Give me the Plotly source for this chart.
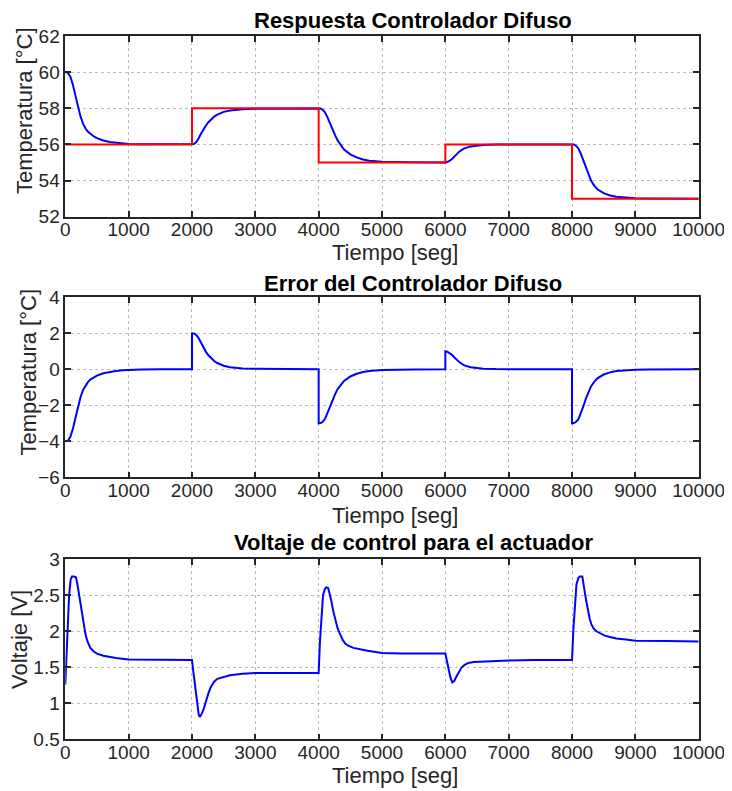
import plotly.graph_objects as go

# ---------------- data ----------------
TIME_TEMP = [0, 40, 80, 120, 160, 200, 240, 280, 320, 360, 400, 450, 500, 600, 700, 800, 900, 1000, 1200, 1500, 2000,
             2030, 2060, 2100, 2140, 2180, 2220, 2260, 2300, 2350, 2400, 2500, 2600, 2700, 2800, 3000, 3200, 3500, 4000,
             4030, 4060, 4100, 4140, 4180, 4220, 4260, 4300, 4350, 4400, 4500, 4600, 4700, 4800, 5000, 5200, 5500, 6000,
             6030, 6060, 6100, 6140, 6180, 6220, 6260, 6300, 6400, 6500, 6600, 6800, 7000, 7500, 8000,
             8030, 8060, 8100, 8140, 8180, 8220, 8260, 8300, 8350, 8400, 8500, 8600, 8700, 8800, 9000, 9200, 9500, 10000]
TEMPERATURE = [60.0, 59.97, 59.75, 59.3, 58.7, 58.1, 57.55, 57.15, 56.88, 56.7, 56.56, 56.44, 56.35, 56.22, 56.14, 56.09, 56.05, 56.03, 56.01, 56.0, 56.0,
               56.02, 56.1, 56.3, 56.58, 56.84, 57.05, 57.23, 57.38, 57.54, 57.65, 57.8, 57.88, 57.92, 57.95, 57.97, 57.98, 57.99, 58.0,
               57.99, 57.93, 57.78, 57.5, 57.15, 56.8, 56.5, 56.22, 55.95, 55.72, 55.45, 55.28, 55.17, 55.1, 55.04, 55.02, 55.01, 55.0,
               55.02, 55.07, 55.18, 55.33, 55.48, 55.6, 55.7, 55.78, 55.89, 55.94, 55.97, 55.99, 56.0, 56.0, 56.0,
               55.99, 55.93, 55.78, 55.48, 55.1, 54.68, 54.3, 54.0, 53.72, 53.52, 53.3, 53.17, 53.1, 53.06, 53.02, 53.01, 53.0, 53.0]

SP_TIME = [0, 2000, 4000, 6000, 8000, 10000]
SETPOINT = [56, 58, 55, 56, 53, 53]

TIME_ERR = [0, 40, 80, 120, 160, 200, 240, 280, 320, 360, 400, 450, 500, 600, 700, 800, 900, 1000, 1200, 1500, 2000,
            2000, 2030, 2060, 2100, 2140, 2180, 2220, 2260, 2300, 2350, 2400, 2500, 2600, 2700, 2800, 3000, 3200, 3500, 4000,
            4000, 4030, 4060, 4100, 4140, 4180, 4220, 4260, 4300, 4350, 4400, 4500, 4600, 4700, 4800, 5000, 5200, 5500, 6000,
            6000, 6030, 6060, 6100, 6140, 6180, 6220, 6260, 6300, 6400, 6500, 6600, 6800, 7000, 7500, 8000,
            8000, 8030, 8060, 8100, 8140, 8180, 8220, 8260, 8300, 8350, 8400, 8500, 8600, 8700, 8800, 9000, 9200, 9500, 10000]
ERROR = [-4.0, -3.97, -3.75, -3.3, -2.7, -2.1, -1.55, -1.15, -0.88, -0.7, -0.56, -0.44, -0.35, -0.22, -0.14, -0.09, -0.05, -0.03, -0.01, 0.0, 0.0,
         2.0, 1.99, 1.93, 1.76, 1.5, 1.2, 0.97, 0.78, 0.62, 0.46, 0.35, 0.2, 0.12, 0.08, 0.05, 0.03, 0.02, 0.01, 0.0,
         -3.0, -2.99, -2.93, -2.75, -2.42, -2.05, -1.68, -1.38, -1.1, -0.85, -0.65, -0.4, -0.25, -0.15, -0.09, -0.04, -0.02, -0.01, 0.0,
         1.0, 0.98, 0.93, 0.82, 0.67, 0.52, 0.4, 0.3, 0.22, 0.11, 0.06, 0.03, 0.01, 0.0, 0.0, 0.0,
         -3.0, -2.99, -2.93, -2.78, -2.45, -2.05, -1.62, -1.25, -0.95, -0.7, -0.5, -0.29, -0.17, -0.1, -0.06, -0.02, -0.01, 0.0, 0.0]

TIME_VOLT = [0, 30, 60, 85, 105, 140, 168, 190, 210, 230, 250, 270, 290, 320, 350, 395, 450, 500, 600, 700, 800, 1000, 1300, 2000,
             2020, 2053, 2080, 2105, 2121, 2140, 2184, 2220, 2263, 2300, 2349, 2400, 2500, 2600, 2800, 3000, 3500, 4000,
             4020, 4045, 4069, 4100, 4120, 4150, 4175, 4200, 4230, 4260, 4300, 4333, 4380, 4420, 4466, 4550, 4650, 4772, 5000, 5300, 6000,
             6020, 6047, 6080, 6110, 6140, 6179, 6220, 6258, 6300, 6363, 6450, 6547, 7000, 7400, 8000,
             8020, 8045, 8070, 8100, 8121, 8163, 8185, 8200, 8225, 8253, 8280, 8305, 8340, 8384, 8450, 8516, 8600, 8700, 8850, 9000, 9500, 10000]
VOLTAGE = [1.26, 1.9, 2.5, 2.72, 2.76, 2.76, 2.75, 2.66, 2.55, 2.43, 2.3, 2.18, 2.06, 1.95, 1.86, 1.77, 1.72, 1.69, 1.66, 1.64, 1.63, 1.61, 1.605, 1.6,
           1.45, 1.2, 1.0, 0.85, 0.81, 0.83, 0.92, 1.04, 1.15, 1.23, 1.3, 1.34, 1.37, 1.39, 1.41, 1.42, 1.42, 1.42,
           1.85, 2.25, 2.5, 2.59, 2.61, 2.6, 2.52, 2.42, 2.28, 2.16, 2.04, 1.97, 1.88, 1.83, 1.8, 1.77, 1.75, 1.73, 1.7, 1.69, 1.69,
           1.6, 1.48, 1.36, 1.29, 1.31, 1.38, 1.45, 1.5, 1.53, 1.56, 1.575, 1.58, 1.595, 1.6, 1.6,
           2.0, 2.4, 2.65, 2.74, 2.76, 2.76, 2.66, 2.55, 2.42, 2.27, 2.17, 2.1, 2.04, 2.0, 1.97, 1.94, 1.92, 1.9, 1.885, 1.87, 1.865, 1.86]

X_TICKS = [0, 1000, 2000, 3000, 4000, 5000, 6000, 7000, 8000, 9000, 10000]
X_TICK_LABELS = ["0", "1000", "2000", "3000", "4000", "5000", "6000", "7000", "8000", "9000", "10000"]
TITLES = ["Respuesta Controlador Difuso", "Error del Controlador Difuso", "Voltaje de control para el actuador"]
X_LABEL = "Tiempo [seg]"
Y_LABELS = ["Temperatura [°C]", "Temperatura [°C]", "Voltaje [V]"]

# ---------------- figure ----------------
OFF = 8  # page body margin of the html page
W, H = 732 - OFF, 791 - OFF
FONT = "Liberation Sans, Arial, Helvetica, sans-serif"
AX = "#262626"


def px(x):
    return (x - OFF) / W


def py(y):
    return 1 - (y - OFF) / H


fig = go.Figure()
fig.add_trace(go.Scatter(x=TIME_TEMP, y=TEMPERATURE, mode="lines", line=dict(color="#0000FF", width=2),
                         xaxis="x", yaxis="y", showlegend=False))
fig.add_trace(go.Scatter(x=SP_TIME, y=SETPOINT, mode="lines", line=dict(color="#FF0000", width=2, shape="hv"),
                         xaxis="x", yaxis="y", showlegend=False))
fig.add_trace(go.Scatter(x=TIME_ERR, y=ERROR, mode="lines", line=dict(color="#0000FF", width=2),
                         xaxis="x2", yaxis="y2", showlegend=False))
fig.add_trace(go.Scatter(x=TIME_VOLT, y=VOLTAGE, mode="lines", line=dict(color="#0000FF", width=2),
                         xaxis="x3", yaxis="y3", showlegend=False))

xdom = [px(65.3), px(698.7)]
panels = [(36.0, 216.7), (297.3, 477.3), (559.3, 739.3)]
yranges = [[52, 62], [-6, 4], [0.5, 3]]
ydticks = [2, 2, 0.5]

common = dict(showline=True, linecolor=AX, linewidth=1.5, mirror="ticks", ticks="inside", ticklen=6,
              tickwidth=1.5, tickcolor=AX, showgrid=True, gridcolor="#bdbdbd", griddash="dot", gridwidth=1,
              zeroline=False, tickfont=dict(family=FONT, size=19, color=AX), automargin=False)

layout = dict(width=W, height=H, margin=dict(l=0, r=0, t=0, b=0), paper_bgcolor="white", plot_bgcolor="white",
              showlegend=False)
for i, (top, bot) in enumerate(panels):
    suf = "" if i == 0 else str(i + 1)
    layout["xaxis" + suf] = dict(domain=xdom, range=[0, 10000], tickvals=X_TICKS, ticktext=X_TICK_LABELS,
                                 anchor="y" + suf, ticklabelstandoff=-5, **common)
    layout["yaxis" + suf] = dict(domain=[py(bot), py(top)], range=yranges[i], dtick=ydticks[i],
                                 tick0=yranges[i][0], anchor="x" + suf, **common)
fig.update_layout(**layout)

ann = []
title_y = [21, 283.5, 542]
xlab_y = [252, 516, 775]
ylab = [(24, 111), (27.5, 372), (19, 640)]
for i in range(3):
    ann.append(dict(text="<b>" + TITLES[i] + "</b>", x=px(413), y=py(title_y[i]), xref="paper", yref="paper",
                    xanchor="center", yanchor="middle", showarrow=False,
                    font=dict(family=FONT, size=22, color="black")))
    ann.append(dict(text=X_LABEL, x=px(395), y=py(xlab_y[i]), xref="paper", yref="paper",
                    xanchor="center", yanchor="middle", showarrow=False,
                    font=dict(family=FONT, size=22, color=AX)))
    ann.append(dict(text=Y_LABELS[i], x=px(ylab[i][0]), y=py(ylab[i][1]), xref="paper", yref="paper",
                    xanchor="center", yanchor="middle", showarrow=False, textangle=-90,
                    font=dict(family=FONT, size=22, color=AX)))
fig.update_layout(annotations=ann)

fig.write_html("out.html")
